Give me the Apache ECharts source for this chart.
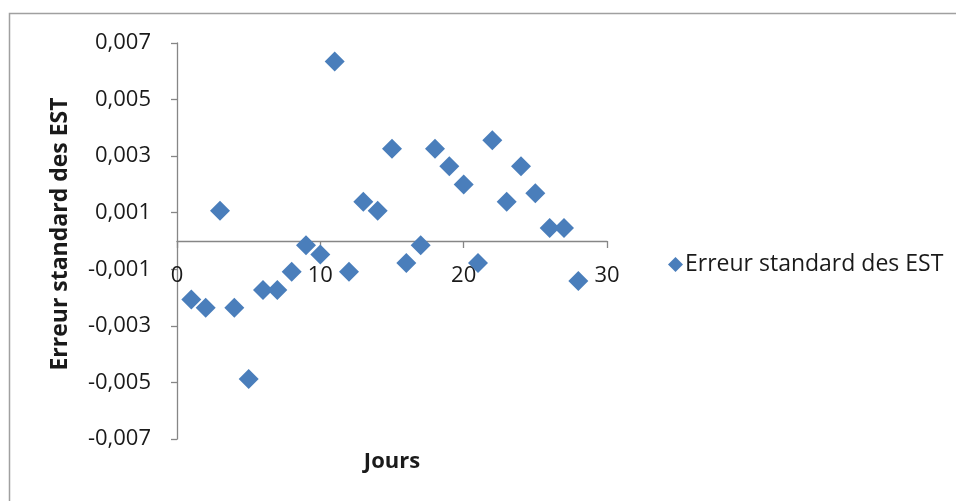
<!DOCTYPE html>
<html>
<head>
<meta charset="utf-8">
<script src="https://cdn.jsdelivr.net/npm/echarts@6/dist/echarts.min.js"></script>
<style>
html,body{margin:0;padding:0;background:#fff;}
#chart{width:956px;height:501px;}
</style>
</head>
<body>
<div id="chart"></div>
<script>
const days = [1,2,3,4,5,6,7,8,9,10,11,12,13,14,15,16,17,18,19,20,21,22,23,24,25,26,27,28];
const stdErr = [-0.00207,-0.00236,0.00107,-0.00236,-0.00488,-0.00173,-0.00173,-0.00109,-0.00015,-0.00048,
  0.00635,-0.00109,0.00139,0.00107,0.00326,-0.00078,-0.00015,0.00326,0.00264,0.00200,
  -0.00078,0.00356,0.00139,0.00264,0.00169,0.00046,0.00046,-0.00141];
const seriesName = 'Erreur standard des EST';
const xTitle = 'Jours';
const yTitle = 'Erreur standard des EST';
const yMin = -0.007, yMax = 0.007, yStep = 0.002;
const xMin = 0, xMax = 30, xStep = 10;

const font = '"Open Sans", Lato, sans-serif';
const W = 956, H = 501;
const grid = {left: 177, right: 349, top: 43, bottom: 62};
const gridH = H - grid.top - grid.bottom;
// x axis crosses the y axis at 0
const xAxisOffset = -gridH * (0 - yMin) / (yMax - yMin);

const chart = echarts.init(document.getElementById('chart'));
chart.setOption({
  animation: false,
  backgroundColor: '#fff',
  grid: Object.assign({containLabel: false}, grid),
  legend: {
    data: [seriesName],
    left: 663, top: 248,
    icon: 'diamond', itemWidth: 15, itemHeight: 15, itemGap: 6,
    textStyle: {fontFamily: font, fontSize: 23, color: '#1a1a1a', padding: [0,0,0,-3]}
  },
  xAxis: {
    type: 'value', min: xMin, max: xMax, interval: xStep,
    offset: xAxisOffset,
    axisLine: {onZero: false, lineStyle: {color: '#868686', width: 1.3}},
    axisTick: {show: true, inside: false, length: 7, lineStyle: {color: '#868686', width: 1.3}},
    axisLabel: {fontFamily: font, fontSize: 22, color: '#1a1a1a', margin: 24},
    splitLine: {show: false}
  },
  yAxis: {
    type: 'value', min: yMin, max: yMax, interval: yStep,
    axisLine: {show: true, onZero: false, lineStyle: {color: '#868686', width: 1.3}},
    axisTick: {show: true, length: 6, lineStyle: {color: '#868686', width: 1.3}},
    axisLabel: {fontFamily: font, fontSize: 22, color: '#1a1a1a', margin: 26,
      formatter: v => v.toFixed(3).replace('.', ',')},
    splitLine: {show: false}
  },
  graphic: [
    {type: 'rect', shape: {x: 9.5, y: 13.5, width: 960, height: 500},
     style: {fill: 'none', stroke: '#a0a0a0', lineWidth: 1.5}, silent: true, z: -1},
    {type: 'text', x: 392, y: 462,
     style: {text: xTitle, fontFamily: font, fontSize: 22, fontWeight: 'bold', fill: '#1a1a1a',
       textAlign: 'center', textVerticalAlign: 'middle'}},
    {type: 'text', x: 60, y: 234, rotation: Math.PI / 2,
     style: {text: yTitle, fontFamily: font, fontSize: 23, fontWeight: 'bold', fill: '#1a1a1a',
       textAlign: 'center', textVerticalAlign: 'middle'}}
  ],
  series: [{
    name: seriesName, type: 'scatter', symbol: 'diamond', symbolSize: 20,
    itemStyle: {color: '#4a7ebb', opacity: 1},
    data: days.map((d, i) => [d, stdErr[i]])
  }]
});
</script>
</body>
</html>
